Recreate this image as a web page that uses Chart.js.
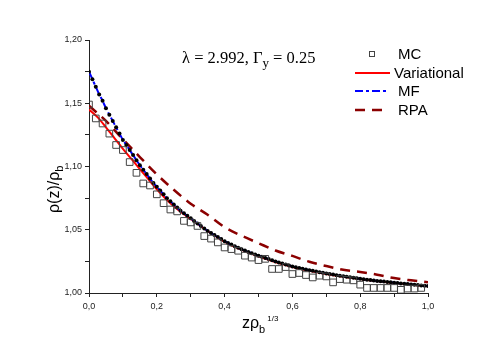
<!DOCTYPE html>
<html>
<head>
<meta charset="utf-8">
<script src="https://cdn.jsdelivr.net/npm/chart.js@4"></script>
<style>
    body { margin: 0; background: #fff; }
    canvas { display: block; }
</style>
</head>
<body>
<canvas id="chart" width="498" height="352"></canvas>
<script>
const mcX = [0, 0.02, 0.04, 0.06, 0.08, 0.10, 0.12, 0.14, 0.16, 0.18,
    0.20, 0.22, 0.24, 0.26, 0.28, 0.30, 0.32, 0.34, 0.36, 0.38,
    0.40, 0.42, 0.44, 0.46, 0.48, 0.50, 0.52, 0.54, 0.56, 0.58,
    0.60, 0.62, 0.64, 0.66, 0.68, 0.70, 0.72, 0.74, 0.76, 0.78,
    0.80, 0.82, 0.84, 0.86, 0.88, 0.90, 0.92, 0.94, 0.96, 0.98];
const mcY = [1.149, 1.138, 1.134, 1.126, 1.117, 1.113, 1.1035, 1.095, 1.0866, 1.085,
    1.078, 1.071, 1.066, 1.0645, 1.057, 1.0558, 1.053, 1.045, 1.043, 1.040,
    1.036, 1.0347, 1.0334, 1.0295, 1.028, 1.026, 1.027, 1.019, 1.019, 1.0205,
    1.015, 1.0158, 1.0142, 1.0123, 1.0137, 1.0131, 1.0084, 1.011, 1.0105, 1.010,
    1.0066, 1.004, 1.004, 1.004, 1.004, 1.004, 1.0025, 1.0035, 1.0035, 1.004];

const mfX = [0, 0.01, 0.02, 0.03, 0.04, 0.05, 0.06, 0.07, 0.08, 0.09,
    0.10, 0.11, 0.12, 0.13, 0.14, 0.15, 0.16, 0.17, 0.18, 0.19,
    0.20, 0.21, 0.22, 0.23, 0.24, 0.25, 0.26, 0.27, 0.28, 0.29,
    0.30, 0.31, 0.32, 0.33, 0.34, 0.35, 0.36, 0.37, 0.38, 0.39,
    0.40, 0.41, 0.42, 0.43, 0.44, 0.45, 0.46, 0.47, 0.48, 0.49,
    0.50, 0.51, 0.52, 0.53, 0.54, 0.55, 0.56, 0.57, 0.58, 0.59,
    0.60, 0.61, 0.62, 0.63, 0.64, 0.65, 0.66, 0.67, 0.68, 0.69,
    0.70, 0.71, 0.72, 0.73, 0.74, 0.75, 0.76, 0.77, 0.78, 0.79,
    0.80, 0.81, 0.82, 0.83, 0.84, 0.85, 0.86, 0.87, 0.88, 0.89,
    0.90, 0.91, 0.92, 0.93, 0.94, 0.95, 0.96, 0.97, 0.98, 0.99, 1.00];
const mfY = [1.175, 1.169, 1.163, 1.157, 1.152, 1.146, 1.141, 1.136, 1.131, 1.126,
    1.121, 1.117, 1.113, 1.109, 1.105, 1.101, 1.0975, 1.094, 1.0905, 1.087,
    1.084, 1.081, 1.078, 1.075, 1.0725, 1.070, 1.0675, 1.065, 1.063, 1.061,
    1.059, 1.057, 1.055, 1.053, 1.051, 1.049, 1.0474, 1.0458, 1.0442, 1.0426,
    1.041, 1.0396, 1.0383, 1.037, 1.0357, 1.0345, 1.0335, 1.0325, 1.0315, 1.0305,
    1.0295, 1.0286, 1.0277, 1.0268, 1.0259, 1.025, 1.0242, 1.0234, 1.0226, 1.0218,
    1.021, 1.0204, 1.0198, 1.0192, 1.0186, 1.018, 1.0175, 1.017, 1.0165, 1.016,
    1.0155, 1.015, 1.0146, 1.0141, 1.0137, 1.0132, 1.0128, 1.0124, 1.012, 1.0116,
    1.0112, 1.0109, 1.0105, 1.0102, 1.0098, 1.0095, 1.0092, 1.009, 1.0087, 1.0085,
    1.0082, 1.0079, 1.0076, 1.0074, 1.0071, 1.0068, 1.0065, 1.0063, 1.006, 1.0058, 1.0055];

const varX = [0, 0.025, 0.05, 0.075, 0.10, 0.125, 0.15, 0.175, 0.20, 0.25, 0.30, 0.40, 0.50, 0.60, 0.70, 0.80, 0.90, 1.00];
const varY = [1.145, 1.139, 1.131, 1.1225, 1.114, 1.106, 1.098, 1.090, 1.082, 1.0685, 1.0585, 1.0405, 1.029, 1.0205, 1.015, 1.011, 1.008, 1.0053];

const rpaX = [0, 0.05, 0.10, 0.15, 0.20, 0.25, 0.30, 0.35, 0.40, 0.45, 0.50,
    0.55, 0.60, 0.65, 0.70, 0.75, 0.80, 0.85, 0.90, 0.95, 1.00];
const rpaY = [1.148, 1.136, 1.1215, 1.1075, 1.0938, 1.0816, 1.0706, 1.0618, 1.052, 1.0453, 1.0394,
    1.0336, 1.0293, 1.0247, 1.0213, 1.0183, 1.0166, 1.0145, 1.0118, 1.010, 1.0085];

const yTicks = ["1,00", "1,05", "1,10", "1,15", "1,20"];
const xTicks = ["0,0", "0,2", "0,4", "0,6", "0,8", "1,0"];

const pts = (xs, ys) => xs.map((x, i) => ({ x: x, y: ys[i] }));

const sans = "'Liberation Sans', Arial, sans-serif";
const serif = "'Liberation Serif', 'Times New Roman', serif";

// titles, label and legend drawn by hand (sub/superscripts)
const extras = {
    id: "extras",
    afterDraw(chart) {
        const ctx = chart.ctx;
        ctx.save();
        ctx.fillStyle = "#000";
        ctx.textBaseline = "alphabetic";
        ctx.textAlign = "left";

        // annotation
        ctx.font = "16.5px " + serif;
        let x = 182;
        const part1 = "\u03bb = 2.992, \u0393";
        ctx.fillText(part1, x, 63);
        x += ctx.measureText(part1).width;
        ctx.font = "13px " + serif;
        ctx.fillText("y", x, 67);
        x += ctx.measureText("y").width;
        ctx.font = "16.5px " + serif;
        ctx.fillText(" = 0.25", x, 63);

        // x title
        ctx.font = "16px " + sans;
        x = 242;
        ctx.fillText("z\u03c1", x, 328);
        x += ctx.measureText("z\u03c1").width;
        ctx.font = "11px " + sans;
        ctx.fillText("b", x, 333);
        x += ctx.measureText("b").width + 2;
        ctx.font = "8px " + sans;
        ctx.fillText("1/3", x, 321);

        // y title
        ctx.save();
        ctx.translate(59, 213);
        ctx.rotate(-Math.PI / 2);
        ctx.font = "16px " + sans;
        ctx.fillText("\u03c1(z)/\u03c1", 0, 0);
        let w = ctx.measureText("\u03c1(z)/\u03c1").width;
        ctx.font = "11px " + sans;
        ctx.fillText("b", w, 4);
        ctx.restore();

        // legend
        ctx.font = "15px " + sans;
        ctx.textBaseline = "middle";
        ctx.strokeStyle = "#444";
        ctx.lineWidth = 1;
        ctx.strokeRect(369.5, 51.5, 5, 5);
        ctx.fillText("MC", 398, 55);

        ctx.lineWidth = 2;
        ctx.strokeStyle = "#ff0000";
        ctx.beginPath(); ctx.moveTo(355, 73); ctx.lineTo(390, 73); ctx.stroke();
        ctx.fillText("Variational", 394, 74);

        ctx.strokeStyle = "#0000ff";
        ctx.setLineDash([8, 3, 3, 3]);
        ctx.beginPath(); ctx.moveTo(355, 91); ctx.lineTo(389, 91); ctx.stroke();
        ctx.fillText("MF", 398, 92);

        ctx.strokeStyle = "#8b0000";
        ctx.lineWidth = 2.5;
        ctx.setLineDash([10, 7]);
        ctx.beginPath(); ctx.moveTo(355, 110); ctx.lineTo(389, 110); ctx.stroke();
        ctx.fillText("RPA", 398, 111);
        ctx.restore();
    }
};

new Chart(document.getElementById("chart"), {
    type: "line",
    data: {
        datasets: [
            { label: "MC", data: pts(mcX, mcY), showLine: false, pointStyle: "rect", pointRadius: 4.7, borderColor: "#444", borderWidth: 1, backgroundColor: "rgba(0,0,0,0)" },
            { label: "dots", data: pts(mfX, mfY), showLine: false, pointRadius: 2, pointBorderWidth: 0, backgroundColor: "#000", borderColor: "#000" },
            { label: "MF", data: pts(mfX, mfY), borderColor: "#0000ff", borderWidth: 2, borderDash: [8, 3, 3, 3], pointRadius: 0, tension: 0.3 },
            { label: "Variational", data: pts(varX, varY), borderColor: "#ff0000", borderWidth: 2, pointRadius: 0, cubicInterpolationMode: "monotone" },
            { label: "RPA", data: pts(rpaX, rpaY), borderColor: "#8b0000", borderWidth: 2.5, borderDash: [10, 7], pointRadius: 0, cubicInterpolationMode: "monotone" }
        ]
    },
    options: {
        responsive: false,
        animation: false,
        layout: { padding: { left: 0, top: 40, right: 70, bottom: 0 } },
        plugins: { legend: { display: false }, tooltip: { enabled: false } },
        scales: {
            x: {
                type: "linear", min: 0, max: 1,
                afterFit: (s) => { s.height = 59; },
                border: { display: true, color: "#222", width: 1 },
                grid: { drawOnChartArea: false, drawTicks: true, tickLength: 4, color: "#222" },
                ticks: {
                    stepSize: 0.1, padding: 4, color: "#222", font: { family: sans, size: 9 }, maxRotation: 0, autoSkip: false,
                    callback: (v) => { const k = Math.round(v * 10); return k % 2 === 0 ? xTicks[k / 2] : ""; }
                }
            },
            y: {
                min: 1, max: 1.2,
                afterFit: (s) => { s.width = 89; },
                border: { display: true, color: "#222", width: 1 },
                grid: { drawOnChartArea: false, drawTicks: true, tickLength: 4, color: "#222" },
                ticks: {
                    stepSize: 0.025, padding: 3, color: "#222", font: { family: sans, size: 9 }, autoSkip: false,
                    callback: (v) => { const k = Math.round((v - 1) * 40); return k % 2 === 0 ? yTicks[k / 2] : ""; }
                }
            }
        }
    },
    plugins: [extras]
});
</script>
</body>
</html>
